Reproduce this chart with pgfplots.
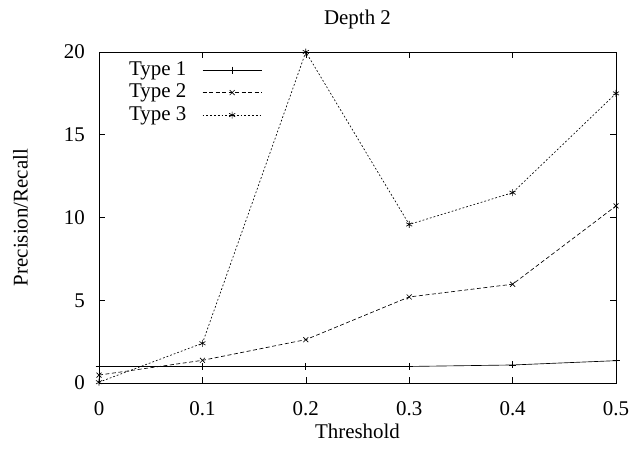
\documentclass[border=0pt]{standalone}
\usepackage{fontspec}
\setmainfont{Liberation Serif}
\usepackage{pgfplots}
\pgfplotsset{compat=1.18}
\begin{document}
\fontsize{21}{25}\selectfont
\begin{tikzpicture}
\begin{axis}[
 scale only axis, width=517bp, height=331bp,
 font=\fontsize{21}{25}\selectfont,
 xmin=0,xmax=0.5,ymin=0,ymax=20,
 xtick={0,0.1,0.2,0.3,0.4,0.5}, xticklabels={0,0.1,0.2,0.3,0.4,0.5},
 ytick={0,5,10,15,20}, yticklabels={0,5,10,15,20},
 tick align=inside, tick pos=both, major tick length=6bp,
 axis line style={black, line width=0.7bp},
 tick style={black, line width=0.6bp},
 xticklabel style={yshift=-11bp},
 yticklabel style={xshift=-7bp},
 every axis title/.style={at={(axis description cs:0.5,1.097)},anchor=center},
 every axis x label/.style={at={(axis description cs:0.5,-0.145)},anchor=center},
 every axis y label/.style={at={(axis description cs:-0.152,0.5)},rotate=90,anchor=center},
 title={Depth 2}, xlabel={Threshold}, ylabel={Precision/Recall},
 legend style={draw=none, fill=none, inner sep=0pt, at={(axis description cs:0.054,0.98)}, anchor=north west,
   legend plot pos=right, legend cell align=right, row sep=0pt, column sep=14bp,
   nodes={inner xsep=2bp, inner ysep=2bp, text height=14.5bp, text depth=4bp},
   font=\fontsize{21}{25}\selectfont},
 legend image code/.code={\draw[mark repeat=2,mark phase=2,#1] plot coordinates {(0bp,0bp)(29.5bp,0bp)(59bp,0bp)};},
 clip=false,
]
\addplot[black, line width=0.65bp, mark=+, mark size=3.5bp, mark options={solid}]
 coordinates {(0,1.0)(0.1,1.0)(0.2,1.0)(0.3,1.0)(0.4,1.09)(0.5,1.35)};
\addlegendentry{Type 1}
\addplot[black, line width=0.65bp, dash pattern=on 4bp off 2.5bp, mark=x, mark size=3.5bp, mark options={solid}]
 coordinates {(0,0.48)(0.1,1.37)(0.2,2.62)(0.3,5.2)(0.4,5.97)(0.5,10.7)};
\addlegendentry{Type 2}
\addplot[black, line width=0.65bp, dash pattern=on 1.8bp off 2bp, mark=asterisk, mark size=3.5bp, mark options={solid}]
 coordinates {(0,0.05)(0.1,2.4)(0.2,20)(0.3,9.58)(0.4,11.5)(0.5,17.5)};
\addlegendentry{Type 3}
\coordinate (bl) at (axis description cs:-0.1915,-0.2205);
\coordinate (tr) at (axis description cs:1.0309,1.1571);
\end{axis}
\pgfresetboundingbox
\path (bl) rectangle (tr);
\end{tikzpicture}
\end{document}
